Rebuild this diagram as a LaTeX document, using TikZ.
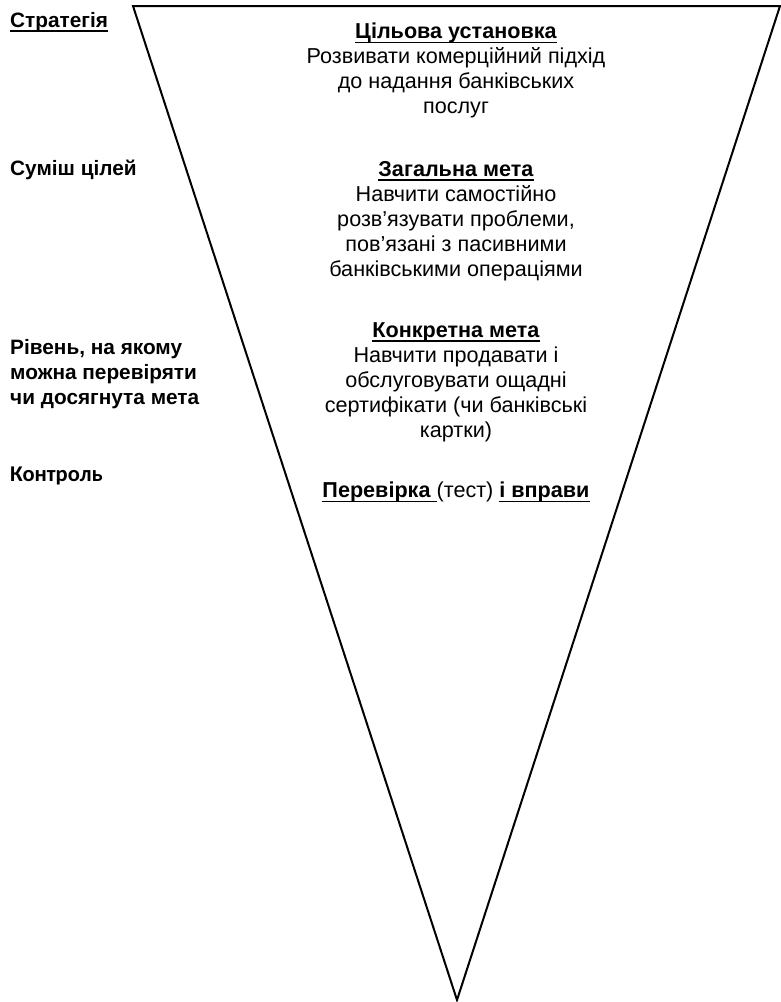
\documentclass[tikz,border=0pt]{standalone}
\usepackage{fontspec}
\setmainfont{Liberation Sans}
\newfontfamily\calfont{Carlito}
% underline drawn as a rule just below the baseline
\newcommand{\undl}[1]{\setbox0\hbox{#1}\rlap{\rule[-4.6pt]{\wd0}{1.6pt}}\box0}
\begin{document}
\begin{tikzpicture}[x=1pt,y=-1pt,
  goal/.style={anchor=north, align=center, inner sep=0pt,
    font=\fontsize{21.6}{25}\selectfont},
  side/.style={anchor=north west, align=left, inner sep=0pt,
    font=\fontsize{20.8}{25}\selectfont\bfseries},
  funnel/.style={draw=black, line width=2pt, line join=miter}]
\useasboundingbox (0,0) rectangle (781,1002);

% inverted triangle of goals
\coordinate (tl) at (133,6);
\coordinate (tr) at (780,6);
\coordinate (tip) at (457,1000);
\draw[funnel] (tl) -- (tr) -- (tip) -- cycle;

% left-hand level labels
\node[side] (lStrat) at (10,12) {\undl{Стратегія}};
\node[side] (lMix) at (10,160) {Суміш цілей};
\node[side] (lLevel) at (10,339) {Рівень, на якому\\можна перевіряти\\чи досягнута мета};
\node[anchor=base west, inner sep=0pt, font=\fontsize{22.5}{25}\selectfont\calfont\bfseries]
  (lCtrl) at (10,481) {Контроль};

% goal descriptions inside the funnel
\node[goal] (gAim) at (456,23) {\undl{\textbf{Цільова установка}}\\
  Розвивати комерційний підхід\\до надання банківських\\послуг};
\node[goal] (gGen) at (456,161) {\undl{\textbf{Загальна мета}}\\
  Навчити самостійно\\розв’язувати проблеми,\\пов’язані з пасивними\\банківськими операціями};
\node[goal] (gSpec) at (456,322) {\undl{\textbf{Конкретна мета}}\\
  Навчити продавати і\\обслуговувати ощадні\\сертифікати (чи банківські\\картки)};
\node[goal] (gTest) at (456,482) {\undl{\textbf{Перевірка }}(тест) \undl{\textbf{і вправи}}};
\end{tikzpicture}
\end{document}
